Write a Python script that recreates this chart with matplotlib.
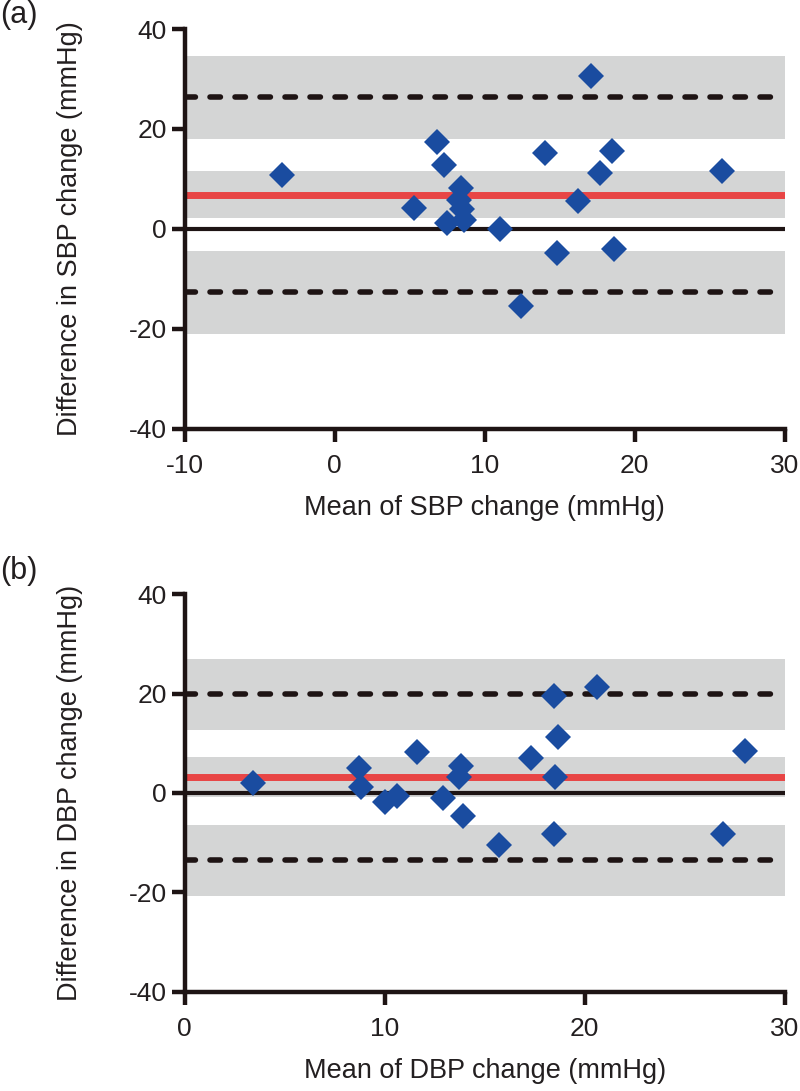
import numpy as np
import matplotlib
matplotlib.use("Agg")
import matplotlib.pyplot as plt

plt.rcParams['font.family'] = ['Liberation Sans', 'DejaVu Sans']
plt.rcParams['lines.scale_dashes'] = False
plt.rcParams['axes.unicode_minus'] = False

# Panel (a): SBP change, Bland-Altman values
sbp_mean = [-3.5, 5.3, 6.8, 7.3, 8.4, 8.3, 8.45, 7.5, 8.6, 11.0, 14.0, 17.1, 18.5, 17.7, 16.2, 14.8, 18.6, 12.4, 25.8]
sbp_diff = [10.8, 4.2, 17.3, 12.8, 8.2, 5.7, 4.0, 1.2, 1.8, -0.1, 15.1, 30.6, 15.5, 11.1, 5.6, -4.8, -4.0, -15.4, 11.5]
sbp_bias = 6.85
sbp_loa = [26.4, -12.7]
sbp_bands = [(18.0, 34.7), (2.1, 11.6), (-21.0, -4.4)]

# Panel (b): DBP change
dbp_mean = [3.4, 8.7, 8.8, 10.0, 10.6, 11.6, 12.9, 13.8, 13.7, 13.9, 15.7, 17.3, 18.45, 18.65, 18.5, 18.45, 20.6, 26.9, 28.0]
dbp_diff = [2.1, 5.1, 1.3, -1.8, -0.7, 8.2, -1.0, 5.4, 3.2, -4.6, -10.5, 7.1, 19.5, 11.2, 3.3, -8.3, 21.4, -8.2, 8.4]
dbp_bias = 3.15
dbp_loa = [19.9, -13.6]
dbp_bands = [(12.7, 27.1), (-0.86, 7.35), (-20.7, -6.4)]

yticks = [-40, -20, 0, 20, 40]
ink = '#231f20'

fig = plt.figure(figsize=(8, 10.91), dpi=100)


def draw_panel(rect, xs, ys, bias, loa, bands, xlim, xticks, xlabel, ylabel, tag, tag_y):
    ax = fig.add_axes(rect)
    for lo, hi in bands:
        ax.axhspan(lo, hi, color='#d4d5d5', lw=0, zorder=0)
    ax.axhline(0, color='#1e1414', lw=3.0, zorder=1)
    ax.axhline(bias, color='#e84545', lw=5.0, zorder=2)
    for v in loa:
        ax.axhline(v, color='#1e1414', lw=4.0, linestyle=(0, (7.5, 10.5)),
                   dash_capstyle='round', zorder=3)
    ax.plot(xs, ys, 'D', color='#1a4ca0', ms=13, mew=0, zorder=4, clip_on=False)

    ax.set_xlim(*xlim)
    ax.set_ylim(-40, 40)
    ax.set_xticks(xticks)
    ax.set_yticks(yticks)
    for s in ['top', 'right']:
        ax.spines[s].set_visible(False)
    for s in ['left', 'bottom']:
        ax.spines[s].set_linewidth(3.2)
        ax.spines[s].set_color('#1e1414')
    ax.tick_params(length=9.5, width=3.2, color='#1e1414', labelsize=19,
                   labelcolor=ink)
    ax.tick_params(axis='y', pad=3.5)
    ax.tick_params(axis='x', pad=8.5)
    ax.set_xlabel(xlabel, fontsize=19.5, color=ink)
    ax.set_ylabel(ylabel, fontsize=19.5, color=ink)
    ax.xaxis.set_label_coords(0.5, -0.167)
    ax.yaxis.set_label_coords(-0.17, 0.5)
    fig.text(0.0, tag_y, tag, fontsize=22, color=ink, ha='left', va='top')
    return ax


draw_panel([0.231, 0.6072, 0.75, 0.3661], sbp_mean, sbp_diff, sbp_bias, sbp_loa,
           sbp_bands, (-10, 30), [-10, 0, 10, 20, 30],
           'Mean of SBP change (mmHg)', 'Difference in SBP change (mmHg)', '(a)', 1.0)
draw_panel([0.231, 0.0912, 0.75, 0.3639], dbp_mean, dbp_diff, dbp_bias, dbp_loa,
           dbp_bands, (0, 30), [0, 10, 20, 30],
           'Mean of DBP change (mmHg)', 'Difference in DBP change (mmHg)', '(b)', 1 - 556 / 1091)

fig.savefig('out.png', dpi=100)
